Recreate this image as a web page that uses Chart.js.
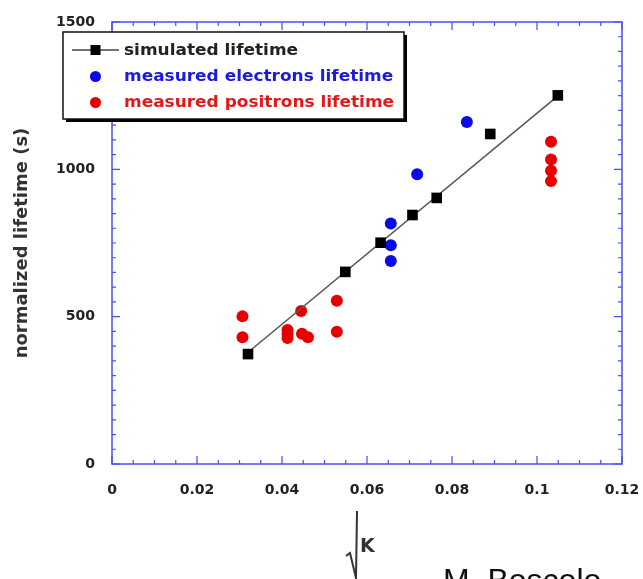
<!DOCTYPE html>
<html>
<head>
<meta charset="utf-8">
<script src="https://cdn.jsdelivr.net/npm/chart.js@4.4.1/dist/chart.umd.min.js"></script>
<style>
  html, body { margin: 0; padding: 0; background: #ffffff; }
  #wrap { width: 643px; height: 579px; }
</style>
</head>
<body>
<div id="wrap"><canvas id="c" width="643" height="579"></canvas></div>
<script>
// ---- data ----
const simX = [0.0320, 0.0549, 0.0632, 0.0707, 0.0764, 0.0890, 0.1049];
const simY = [373, 652, 751, 845, 903, 1120, 1251];
const fitX = [0.0321, 0.1050];
const fitY = [380, 1250];
const elecX = [0.0656, 0.0656, 0.0656, 0.0718, 0.0835];
const elecY = [689, 742, 816, 983, 1161];
const posX = [0.0307, 0.0307, 0.0413, 0.0413, 0.0413, 0.0445, 0.0447, 0.0461, 0.0529, 0.0529, 0.1033, 0.1033, 0.1033, 0.1033];
const posY = [501, 430, 455, 441, 428, 519, 442, 430, 554, 449, 1094, 1033, 995, 960];
const xTickLabels = ['0', '0.02', '0.04', '0.06', '0.08', '0.1', '0.12'];
const yTickLabels = ['0', '500', '1000', '1500'];
const seriesNames = ['simulated lifetime', 'measured electrons lifetime', 'measured positrons lifetime'];
const yTitle = 'normalized lifetime (s)';
const xTitle = 'K';
const author = 'M. Boscolo';

const pts = (xs, ys) => xs.map((x, i) => ({ x: x, y: ys[i] }));

const BLUE = '#0a0ae6';
const RED = '#e60000';
const AXIS = '#4c4cf2';
const FONT = 'DejaVu Sans';

const framePlugin = {
  id: 'frame',
  beforeDatasetsDraw(chart) {
    const ctx = chart.ctx;
    const a = chart.chartArea;
    const xs = chart.scales.x, ys = chart.scales.y;
    ctx.save();
    ctx.strokeStyle = AXIS;
    ctx.lineWidth = 1.5;
    ctx.strokeRect(a.left, a.top, a.right - a.left, a.bottom - a.top);
    ctx.lineWidth = 1.2;
    ctx.beginPath();
    for (let i = 0; i <= 24; i++) {
      const px = xs.getPixelForValue(i * 0.005);
      const len = (i % 4 === 0) ? 8 : 4;
      ctx.moveTo(px, a.bottom); ctx.lineTo(px, a.bottom - len);
      ctx.moveTo(px, a.top); ctx.lineTo(px, a.top + len);
    }
    for (let i = 0; i <= 30; i++) {
      const py = ys.getPixelForValue(i * 50);
      const len = (i % 10 === 0) ? 8 : 4;
      ctx.moveTo(a.left, py); ctx.lineTo(a.left + len, py);
      ctx.moveTo(a.right, py); ctx.lineTo(a.right - len, py);
    }
    ctx.stroke();
    ctx.restore();
  },
  afterDraw(chart) {
    const ctx = chart.ctx;
    const ds = chart.data.datasets;
    ctx.save();
    // legend box with shadow
    const bx = 63, by = 32, bw = 341, bh = 87;
    ctx.fillStyle = '#000';
    ctx.fillRect(bx + 3, by + 3, bw, bh);
    ctx.fillStyle = '#fff';
    ctx.fillRect(bx, by, bw, bh);
    ctx.strokeStyle = '#111';
    ctx.lineWidth = 1.5;
    ctx.strokeRect(bx, by, bw, bh);
    const rows = [50, 76.5, 102.5];
    const entries = [
      { ds: ds[0], color: '#222', line: true },
      { ds: ds[2], color: '#1a1ae0', line: false },
      { ds: ds[3], color: '#e01a1a', line: false }
    ];
    ctx.font = 'bold 15px "' + FONT + '"';
    ctx.textBaseline = 'middle';
    ctx.textAlign = 'left';
    entries.forEach((e, i) => {
      const y = rows[i];
      if (e.line) {
        ctx.strokeStyle = '#444';
        ctx.lineWidth = 1.5;
        ctx.beginPath(); ctx.moveTo(72, y); ctx.lineTo(119, y); ctx.stroke();
        ctx.fillStyle = '#000';
        ctx.fillRect(95.5 - 5, y - 5, 10, 10);
      } else {
        ctx.fillStyle = e.ds.backgroundColor;
        ctx.beginPath(); ctx.arc(95.5, y, 5.5, 0, Math.PI * 2); ctx.fill();
      }
      ctx.fillStyle = e.color;
      ctx.save();
      ctx.translate(124, y + 1);
      ctx.scale(1.13, 1);
      ctx.fillText(e.ds.label, 0, 0);
      ctx.restore();
    });
    // x-axis title: radical sign and K
    ctx.strokeStyle = '#333';
    ctx.lineWidth = 2;
    ctx.beginPath();
    ctx.moveTo(346, 556); ctx.lineTo(350, 553); ctx.lineTo(356, 578); ctx.lineTo(357, 511);
    ctx.stroke();
    ctx.fillStyle = '#333';
    ctx.font = 'bold 19px "' + FONT + '"';
    ctx.textBaseline = 'alphabetic';
    ctx.fillText(xTitle, 360, 552);
    // author credit, cut by the bottom edge
    ctx.fillStyle = '#111';
    ctx.font = '32px "Liberation Sans"';
    ctx.fillText(author, 443, 591);
    ctx.restore();
  }
};

new Chart(document.getElementById('c'), {
  type: 'scatter',
  data: {
    datasets: [
      { label: seriesNames[0], data: pts(simX, simY), pointStyle: 'rect', pointRadius: 7.5, pointHoverRadius: 7.5,
        backgroundColor: '#000', borderColor: '#000', borderWidth: 0, showLine: false },
      { label: 'fit', data: pts(fitX, fitY), showLine: true, borderColor: '#555', borderWidth: 1.5,
        pointRadius: 0, backgroundColor: '#555' },
      { label: seriesNames[1], data: pts(elecX, elecY), pointStyle: 'circle', pointRadius: 6, pointHoverRadius: 6,
        backgroundColor: BLUE, borderColor: BLUE, borderWidth: 0 },
      { label: seriesNames[2], data: pts(posX, posY), pointStyle: 'circle', pointRadius: 6, pointHoverRadius: 6,
        backgroundColor: RED, borderColor: RED, borderWidth: 0 }
    ]
  },
  options: {
    responsive: false,
    animation: false,
    events: [],
    layout: { padding: { left: 0, top: 22, right: 21, bottom: 85 } },
    plugins: { legend: { display: false }, tooltip: { enabled: false } },
    scales: {
      x: {
        type: 'linear', min: 0, max: 0.12,
        grid: { display: false, drawTicks: false },
        border: { display: false },
        ticks: {
          stepSize: 0.02, padding: 18, color: '#222', maxRotation: 0,
          font: { family: FONT, size: 14, weight: 'bold' },
          callback: (v) => xTickLabels[Math.round(v / 0.02)]
        },
        afterFit: (s) => { s.height = 30; s.paddingLeft = 0; s.paddingRight = 0; }
      },
      y: {
        type: 'linear', min: 0, max: 1500,
        grid: { display: false, drawTicks: false },
        border: { display: false },
        ticks: {
          stepSize: 500, padding: 17, color: '#222',
          font: { family: FONT, size: 14, weight: 'bold' },
          callback: (v) => yTickLabels[Math.round(v / 500)]
        },
        title: {
          display: true, text: yTitle, color: '#333',
          font: { family: FONT, size: 18, weight: 'bold' },
          padding: { top: 12, bottom: 0 }
        },
        afterFit: (s) => { s.width = 112; s.paddingTop = 0; s.paddingBottom = 0; }
      }
    }
  },
  plugins: [framePlugin]
});
</script>
</body>
</html>
